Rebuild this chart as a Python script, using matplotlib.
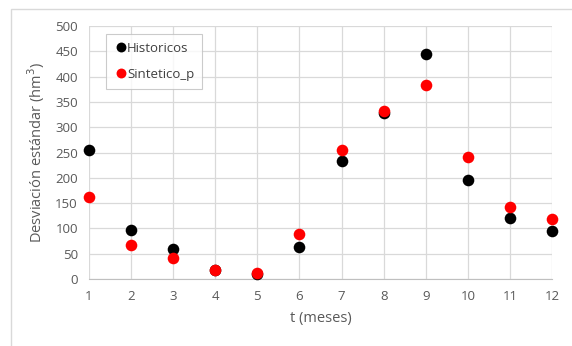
import matplotlib
matplotlib.use("Agg")
import matplotlib.pyplot as plt
from matplotlib.patches import Rectangle

months = [1, 2, 3, 4, 5, 6, 7, 8, 9, 10, 11, 12]
historicos = [254, 96, 60, 17, 10, 63, 233, 328, 445, 196, 121, 94]
sintetico_p = [163, 67, 42, 17, 12, 88, 255, 333, 383, 242, 142, 118]

plt.rcParams['font.family'] = ['Open Sans', 'DejaVu Sans']

fig = plt.figure(figsize=(5.72, 3.46), dpi=100)
fig.patches.append(Rectangle((11/572, -0.1), 1.2, 1 - 9/346 + 0.1, transform=fig.transFigure,
                             fill=False, edgecolor='#d9d9d9', linewidth=1.0))
ax = fig.add_axes([89/572, 1 - 279/346, (552 - 89)/572, (279 - 26)/346])

ax.scatter(months, historicos, s=70, color='black', label='Historicos', zorder=3,
           linewidths=0, clip_on=False)
ax.scatter(months, sintetico_p, s=70, color='#ff0000', label='Sintetico_p', zorder=4,
           linewidths=0, clip_on=False)

ax.set_xlim(1, 12)
ax.set_ylim(0, 500)
ax.set_xticks(months)
ax.set_yticks(range(0, 501, 50))
ax.grid(True, color='#d9d9d9', linewidth=0.9)
ax.set_axisbelow(True)
for s in ['top', 'right', 'left']:
    ax.spines[s].set_visible(False)
ax.spines['bottom'].set_color('#bfbfbf')
ax.tick_params(length=0, labelsize=9.5, colors='#595959', pad=8)
ax.set_xlabel('t (meses)', fontsize=10.5, color='#595959', labelpad=6)
ax.set_ylabel('Desviación estándar (hm$^3$)', fontsize=10.5, color='#595959', labelpad=6)

leg = ax.legend(loc='upper left', bbox_to_anchor=((106 - 89)/463, 1 - (34 - 26)/253),
                borderaxespad=0, fancybox=False, edgecolor='#bfbfbf', fontsize=9.5,
                handletextpad=0.0, labelspacing=1.0, borderpad=0.6, handlelength=1.0,
                scatterpoints=1, scatteryoffsets=[0.5], markerscale=0.85)
leg.get_frame().set_linewidth(0.8)
for t in leg.get_texts():
    t.set_color('#404040')

fig.savefig('out.png', dpi=100)
